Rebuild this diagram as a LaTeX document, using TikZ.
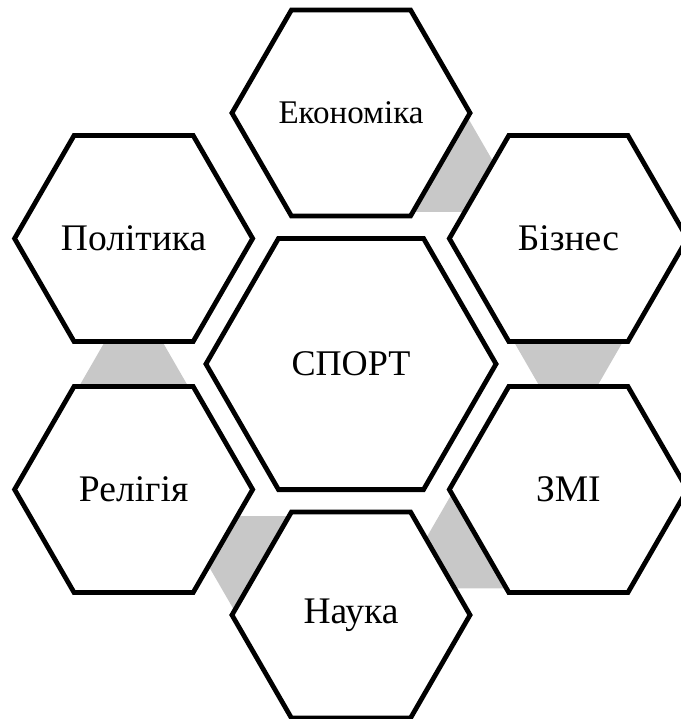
\documentclass[tikz,border=0pt]{standalone}
\usepackage{fontspec}
\setmainfont{Liberation Serif}
\usetikzlibrary{shapes.geometric}
\usetikzlibrary{backgrounds}
\definecolor{linkgray}{RGB}{200,200,200}

\begin{document}
\begin{tikzpicture}[x=0.025cm,y=0.025cm,
  hexa/.style={regular polygon,regular polygon sides=6,draw=black,line width=3.4pt,
    fill=white,inner sep=0pt,minimum size=5.95cm,font=\fontsize{26.7}{30}\selectfont},
  link/.style={fill=linkgray}]
\useasboundingbox (-351,-355) rectangle (329,364);
% The centre hexagon
\node[hexa,minimum size=7.25cm,font=\fontsize{25.7}{30}\selectfont] (sport) at (0,0) {СПОРТ};
%% The outer hexagons, clockwise from the top
\node[hexa,font=\fontsize{23.5}{28}\selectfont] (ekon) at (90:251) {Економіка};
\node[hexa] (bizn) at (30:251) {Бізнес};
\node[hexa] (zmi) at (-30:251) {ЗМІ};
\node[hexa] (nauka) at (-90:251) {Наука};
\node[hexa] (relig) at (-150:251) {Релігія};
\node[hexa] (polit) at (150:251) {Політика};
% grey links behind the hexagons
\begin{scope}[on background layer]
\foreach \from/\ang in {ekon/-30,bizn/-90,zmi/-150,nauka/150,relig/90}
  \fill[link,shift={(\from.center)},rotate=\ang] (80,67.9) -- (170,16) -- (170,-16) -- (80,-67.9) -- cycle;
\end{scope}
\end{tikzpicture}
\end{document}
